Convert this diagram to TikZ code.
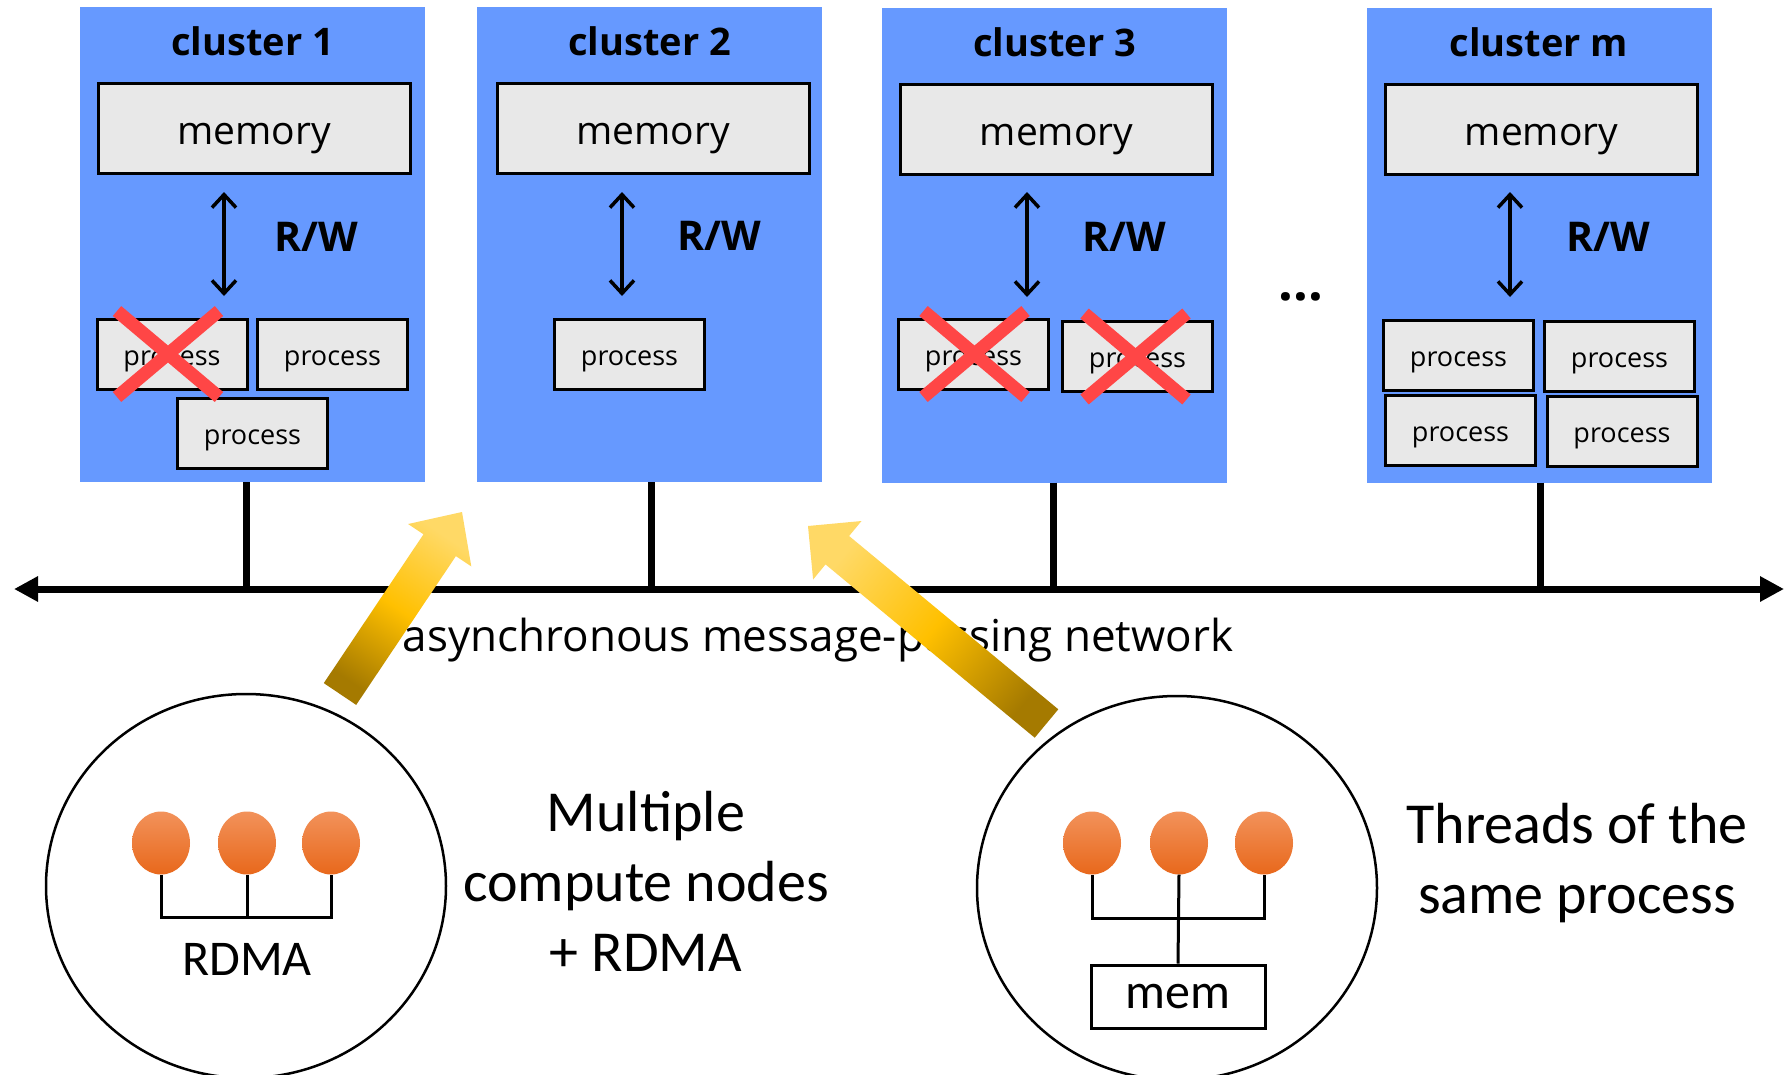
\documentclass[tikz,border=0pt]{standalone}
\usepackage{fontspec}
\setmainfont{Open Sans}
\newfontfamily\calfont{Carlito}
\usetikzlibrary{arrows.meta,shapes.geometric}
\definecolor{clblue}{RGB}{102,153,255}
\definecolor{boxgray}{RGB}{232,232,232}
\definecolor{xred}{RGB}{255,70,70}
\definecolor{balltop}{RGB}{242,146,90}
\definecolor{ballbot}{RGB}{232,104,28}
\definecolor{ardark}{RGB}{165,122,0}
\definecolor{armid}{RGB}{255,192,0}
\definecolor{arlight}{RGB}{255,217,102}
\newcommand{\fsz}[1]{\fontsize{#1}{#1}\selectfont}
\begin{document}
\begin{tikzpicture}[x=1pt,y=-1pt,
  cluster/.style={fill=clblue, minimum width=345pt, minimum height=475pt, inner sep=0pt, draw=none},
  cltitle/.style={font=\fsz{38}\bfseries, anchor=base, inner sep=0pt},
  membox/.style={draw=black, line width=3pt, fill=boxgray, minimum width=312pt, minimum height=90pt, inner sep=0pt, font=\fsz{39}, text height=31pt, text depth=0pt},
  procbox/.style={draw=black, line width=3pt, fill=boxgray, minimum width=150pt, minimum height=70pt, inner sep=0pt, font=\fsz{27}, text height=22pt, text depth=0pt},
  rw/.style={line width=3.5pt, {Straight Barb[length=13pt,width=24pt]}-{Straight Barb[length=13pt,width=24pt]}},
  rwlabel/.style={font=\fsz{41}\bfseries, anchor=base west, inner sep=0pt},
  crossline/.style={draw=xred, line width=13pt},
  stemline/.style={line width=7pt},
  busline/.style={line width=7pt, {Triangle[length=24pt,width=24pt]}-{Triangle[length=24pt,width=24pt]}},
  group/.style={draw=black, line width=2.5pt, ellipse, minimum width=400pt, minimum height=384pt, inner sep=0pt},
  ball/.style={ellipse, minimum width=58pt, minimum height=63pt, inner sep=0pt, top color=balltop, bottom color=ballbot, draw=none},
  wire/.style={line width=3pt},
  bigtext/.style={font=\calfont\fontsize{58}{70}\selectfont, align=center, inner sep=0pt},
  yarrow/.style={top color=arlight, bottom color=ardark, middle color=armid}
]
\useasboundingbox (0,0) rectangle (1791,1074);
\fill[white] (0,0) rectangle (1791,1074);
\clip (0,0) rectangle (1791,1074);

% clusters
\node[cluster] (cl1) at (252.5,244.5) {};
\node[cluster] (cl2) at (649.5,244.5) {};
\node[cluster] (cl3) at (1054.5,245) {};
\node[cluster] (clm) at (1539,245) {};

\node[cltitle] (t1) at (252.5,55) {cluster 1};
\node[cltitle] (t2) at (649.5,55) {cluster 2};
\node[cltitle] (t3) at (1054.5,56) {cluster 3};
\node[cltitle] (tm) at (1539,56) {cluster m};

\node[membox] (m1) at (254,128.5) {memory};
\node[membox] (m2) at (653,128.5) {memory};
\node[membox] (m3) at (1056.5,129.5) {memory};
\node[membox] (mm) at (1541.5,129.5) {memory};

% R/W arrows
\coordinate (a1t) at (224,192); \coordinate (a1b) at (224,296);
\coordinate (a2t) at (622,192); \coordinate (a2b) at (622,296);
\coordinate (a3t) at (1027,192); \coordinate (a3b) at (1027,297);
\coordinate (amt) at (1510,192); \coordinate (amb) at (1510,297);
\draw[rw] (a1t) -- (a1b);
\draw[rw] (a2t) -- (a2b);
\draw[rw] (a3t) -- (a3b);
\draw[rw] (amt) -- (amb);
\node[rwlabel] (r1) at (274,251) {R/W};
\node[rwlabel] (r2) at (677,250) {R/W};
\node[rwlabel] (r3) at (1082,251) {R/W};
\node[rwlabel] (rm) at (1566,251) {R/W};

% processes
\node[procbox] (p11) at (172,354) {process};
\node[procbox] (p12) at (332.5,354) {process};
\node[procbox] (p13) at (252.5,433.5) {process};
\node[procbox] (p21) at (629.5,354) {process};
\node[procbox] (p31) at (973.5,354) {process};
\node[procbox] (p32) at (1137.5,356.5) {process};
\node[procbox] (pm1) at (1458.5,355) {process};
\node[procbox] (pm2) at (1619.5,356) {process};
\node[procbox] (pm3) at (1460.5,430) {process};
\node[procbox] (pm4) at (1622,431) {process};

% crosses
\foreach \p/\dx in {p11/-4,p31/1,p32/-2}{
  \draw[crossline] ([shift={(\dx-51,-43)}]\p.center) -- ([shift={(\dx+51,43)}]\p.center);
  \draw[crossline] ([shift={(\dx+51,-43)}]\p.center) -- ([shift={(\dx-51,43)}]\p.center);
}

\node[font=\fsz{52}\bfseries, anchor=base, inner sep=0pt] (dots) at (1301,300) {...};

% bus and stems
\coordinate (busL) at (14,589);
\coordinate (busR) at (1784,589);
\coordinate (s1) at (246,589);
\coordinate (s2) at (651,589);
\coordinate (s3) at (1053,589);
\coordinate (sm) at (1540,589);
\draw[stemline] (s1 |- cl1.south) -- (s1);
\draw[stemline] (s2 |- cl2.south) -- (s2);
\draw[stemline] (s3 |- cl3.south) -- (s3);
\draw[stemline] (sm |- clm.south) -- (sm);
\draw[busline] (busL) -- (busR);

\node[font=\fsz{44}, anchor=base, inner sep=0pt] (net) at (818,651) {asynchronous message-passing network};

% bottom groups
\node[group] (gl) at (246,886) {};
\node[group] (gr) at (1177,888) {};

\node[ball] (bl1) at (161,843) {};
\node[ball] (bl2) at (247,843) {};
\node[ball] (bl3) at (331,843) {};
\coordinate (jl) at (247,917);
\draw[wire] (bl1.south) |- (jl) -| (bl3.south);
\draw[wire] (bl2.south) -- (jl);
\node[font=\calfont\fsz{50}, inner sep=0pt] (rdma) at (247,959) {RDMA};

\node[ball] (br1) at (1092,843) {};
\node[ball] (br2) at (1179,843) {};
\node[ball] (br3) at (1264,843) {};
\coordinate (jr) at (1179,918);
\node[draw=black, line width=3pt, fill=white, minimum width=174pt, minimum height=63pt, inner sep=0pt, font=\calfont\fsz{50}] (mem) at (1178,996.5) {mem};
\draw[wire] (br1.south) |- (jr) -| (br3.south);
\draw[wire] (br2.south) -- (mem.north);

\node[bigtext] (lt) at (646,881) {Multiple\\compute nodes\\+ RDMA};
\node[bigtext] (rt) at (1577,863) {Threads of the\\same process};

% yellow arrows
\shade[yarrow, shading angle=-33.8] (356.2,704.9) -- (455.9,556.1) -- (471.3,566.4) -- (462,512) -- (408.1,524.0) -- (423.5,534.3) -- (323.8,683.1) -- cycle;
\shade[yarrow, shading angle=50.4] (1058.3,709.3) -- (849.1,536.0) -- (861.5,521.0) -- (808,526) -- (813.1,579.5) -- (825.5,564.4) -- (1034.7,737.7) -- cycle;
\end{tikzpicture}
\end{document}
